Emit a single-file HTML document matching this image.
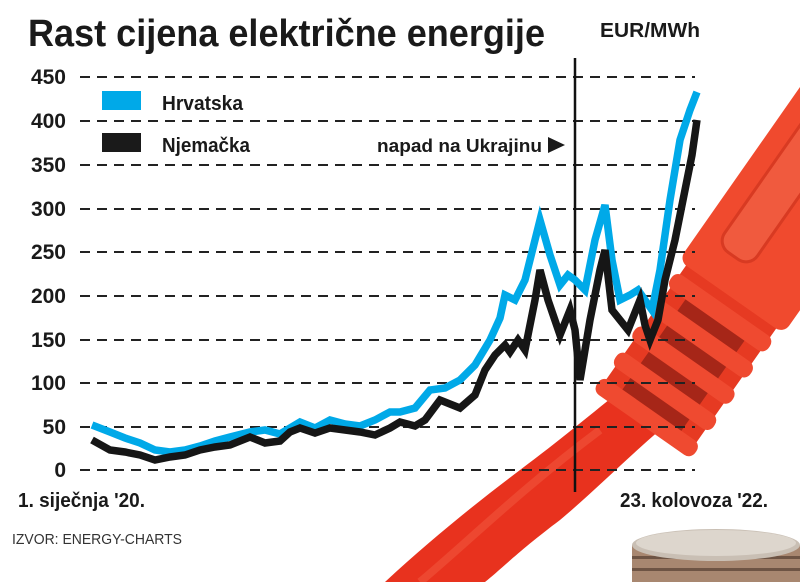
<!DOCTYPE html>
<html><head><meta charset="utf-8"><style>
html,body{margin:0;padding:0;background:#fff;}
svg{display:block;font-family:"Liberation Sans",sans-serif;}
</style></head><body>
<svg width="800" height="582" viewBox="0 0 800 582" xmlns="http://www.w3.org/2000/svg">
<rect width="800" height="582" fill="#fff"/>
<!-- coins -->
<g>
<rect x="632" y="545" width="168" height="37" fill="#a88770"/>
<rect x="632" y="556" width="168" height="3" fill="#6e5444"/>
<rect x="632" y="568" width="168" height="3" fill="#6e5444"/>
<ellipse cx="716" cy="545" rx="84" ry="16" fill="#c9bfb4"/>
<ellipse cx="716" cy="543" rx="80" ry="13" fill="#ddd6cd"/>
</g>
<!-- cable -->
<path d="M385,582 C430,540 480,500 520,470 C560,440 590,415 615,395 L660,430 C625,460 590,495 560,520 C520,550 500,570 485,582 Z" fill="#e8321e"/>
<path d="M420,582 C470,540 520,490 600,430" stroke="#f0553c" stroke-width="8" fill="none" opacity="0.6"/>
<g transform="translate(645,420) rotate(-55)">
  <rect x="0" y="-55" width="160" height="110" fill="#e63a22" rx="6"/>
  <rect x="-6" y="-60" width="18" height="120" fill="#ef4a30" rx="8"/>
  <rect x="26" y="-60" width="18" height="120" fill="#ef4a30" rx="8"/>
  <rect x="58" y="-60" width="18" height="120" fill="#ef4a30" rx="8"/>
  <rect x="90" y="-60" width="18" height="120" fill="#ef4a30" rx="8"/>
  <rect x="122" y="-60" width="18" height="120" fill="#ef4a30" rx="8"/>
  <rect x="12" y="-36" width="14" height="72" fill="#8a1e14" opacity="0.7"/>
  <rect x="44" y="-36" width="14" height="72" fill="#8a1e14" opacity="0.7"/>
  <rect x="76" y="-36" width="14" height="72" fill="#8a1e14" opacity="0.7"/>
  <rect x="108" y="-36" width="14" height="72" fill="#8a1e14" opacity="0.7"/>
  <rect x="150" y="-64" width="260" height="128" fill="#f04a2e" rx="10"/>
  <rect x="185" y="-42" width="220" height="40" fill="#f05a3e" stroke="#d83a22" stroke-width="3" rx="14"/>
</g>
<!-- grid -->
<g stroke="#222" stroke-width="2" stroke-dasharray="10,7">
<line x1="80" y1="77" x2="695" y2="77"/>
<line x1="80" y1="121" x2="695" y2="121"/>
<line x1="80" y1="165" x2="695" y2="165"/>
<line x1="80" y1="209" x2="695" y2="209"/>
<line x1="80" y1="252" x2="695" y2="252"/>
<line x1="80" y1="296" x2="695" y2="296"/>
<line x1="80" y1="340" x2="695" y2="340"/>
<line x1="80" y1="383" x2="695" y2="383"/>
<line x1="80" y1="427" x2="695" y2="427"/>
<line x1="80" y1="470" x2="695" y2="470"/>
</g>
<g font-size="21" font-weight="bold" fill="#1a1a1a" text-anchor="end">
<text x="66" y="84">450</text><text x="66" y="128">400</text><text x="66" y="172">350</text>
<text x="66" y="216">300</text><text x="66" y="259">250</text><text x="66" y="303">200</text>
<text x="66" y="347">150</text><text x="66" y="390">100</text><text x="66" y="434">50</text>
<text x="66" y="477">0</text>
</g>
<line x1="575" y1="58" x2="575" y2="492" stroke="#111" stroke-width="2.5"/>
<!-- series -->
<polyline fill="none" stroke="#00a9e8" stroke-width="7.5" stroke-linejoin="miter" points="92,425 110,432 125,438 140,443 155,450 170,452 185,450 200,446 215,441 230,437 250,432 265,430 280,434 300,422 315,428 330,420 345,424 360,426 375,420 390,412 400,412 415,408 430,390 445,388 460,380 475,365 490,340 500,318 505,295 515,300 525,280 540,220 550,255 560,285 568,275 575,280 585,290 595,240 605,205 612,260 620,300 630,295 638,290 645,300 652,310 660,270 670,200 680,140 690,110 697,92"/>
<polyline fill="none" stroke="#161616" stroke-width="7.5" stroke-linejoin="miter" points="92,440 110,450 125,452 140,455 155,460 170,457 185,455 200,450 215,447 230,445 250,437 265,443 280,441 290,432 300,428 315,433 330,428 345,430 360,432 375,435 390,428 400,422 415,426 425,420 440,400 460,408 475,395 485,370 495,355 505,345 510,352 518,340 525,350 535,300 540,270 548,300 560,335 570,310 575,330 580,380 590,320 600,270 605,250 612,310 620,320 628,330 640,300 645,325 650,340 658,320 665,280 675,240 685,190 692,155 697,120"/>
<!-- legend -->
<rect x="102" y="91" width="39" height="19" fill="#00a9e8"/>
<rect x="102" y="133" width="39" height="19" fill="#1a1a1a"/>
<g font-size="20" font-weight="bold" fill="#1a1a1a">
<text x="162" y="110" textLength="81" lengthAdjust="spacingAndGlyphs">Hrvatska</text>
<text x="162" y="152" textLength="88" lengthAdjust="spacingAndGlyphs">Njemačka</text>
<text x="377" y="152" textLength="165" lengthAdjust="spacingAndGlyphs" font-size="18">napad na Ukrajinu</text>
<text x="600" y="37" textLength="100" lengthAdjust="spacingAndGlyphs">EUR/MWh</text>
<text x="18" y="507" textLength="127" lengthAdjust="spacingAndGlyphs">1. siječnja '20.</text>
<text x="620" y="507" textLength="148" lengthAdjust="spacingAndGlyphs">23. kolovoza '22.</text>
</g>
<polygon points="548,137 565,145 548,153" fill="#1a1a1a"/>
<text x="28" y="46" font-size="38" font-weight="bold" fill="#1a1a1a" textLength="517" lengthAdjust="spacingAndGlyphs">Rast cijena električne energije</text>
<text x="12" y="544" font-size="15" fill="#333" textLength="170" lengthAdjust="spacingAndGlyphs">IZVOR: ENERGY-CHARTS</text>
</svg>
</body></html>
